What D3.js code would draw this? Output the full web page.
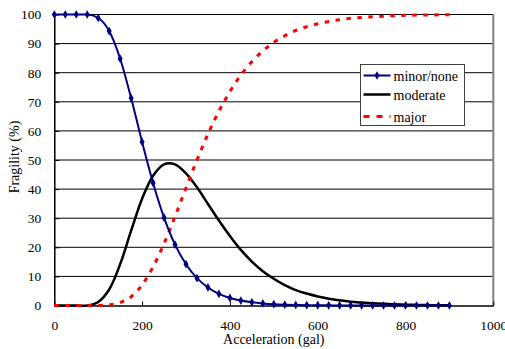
<!DOCTYPE html>
<html>
<head>
<meta charset="utf-8">
<script src="https://cdn.jsdelivr.net/npm/d3@7"></script>
<style>
  body { margin: 0; background: #fff; }
</style>
</head>
<body>
<div id="chart"></div>
<script>
// acceleration (gal), one point every 25 gal
const accel = d3.range(0, 901, 25);

const minorNone = [100, 100, 100, 100, 98.8, 94.3, 84.8, 71.3, 56.2, 42.1, 30.2, 20.9, 14.2, 9.4,
  6.2, 4.0, 2.6, 1.7, 1.1, 0.7, 0.44, 0.28, 0.18, 0.12, 0.08, 0.05, 0.03, 0.02, 0.01, 0.01,
  0, 0, 0, 0, 0, 0, 0];
const moderate = [0, 0, 0, 0, 1.2, 5.5, 14.2, 25.7, 36.7, 44.6, 48.5, 48.5, 45.4, 40.6,
  34.9, 29.2, 23.9, 19.1, 15.1, 11.8, 9.2, 7.0, 5.3, 4.1, 3.1, 2.35, 1.8, 1.3, 1.0, 0.75,
  0.6, 0.4, 0.3, 0.2, 0.15, 0.1, 0.1];
const major = [0, 0, 0, 0, 0.02, 0.2, 1.0, 3.0, 7.1, 13.3, 21.3, 30.6, 40.4, 50,
  58.9, 66.8, 73.5, 79.2, 83.8, 87.5, 90.4, 92.7, 94.5, 95.8, 96.8, 97.6, 98.2, 98.7, 99.0, 99.2,
  99.4, 99.6, 99.7, 99.8, 99.8, 99.9, 99.9];

const xTicks = [0, 200, 400, 600, 800, 1000];
const yTicks = [0, 10, 20, 30, 40, 50, 60, 70, 80, 90, 100];
const seriesNames = ['minor/none', 'moderate', 'major'];

const FONT = '"Liberation Serif", "Times New Roman", serif';
const W = 505, H = 349;
const svg = d3.select('#chart').append('svg')
    .attr('width', W)
    .attr('height', H);

const x = d3.scaleLinear().domain([0, 1000]).range([54.3, 493.3]);
const y = d3.scaleLinear().domain([0, 100]).range([305.5, 14.5]);

// horizontal gridlines
svg.append('g').selectAll('line').data(yTicks.slice(1)).enter().append('line')
    .attr('x1', x(0)).attr('x2', x(1000))
    .attr('y1', d => y(d)).attr('y2', d => y(d))
    .attr('stroke', '#000').attr('stroke-width', 1);

// right border of plot area
svg.append('line')
    .attr('x1', x(1000)).attr('x2', x(1000))
    .attr('y1', y(100)).attr('y2', y(0))
    .attr('stroke', '#808080').attr('stroke-width', 2);

// axes
const xAxis = svg.append('g')
    .attr('transform', `translate(0,${y(0)})`)
    .call(d3.axisBottom(x).tickValues(xTicks).tickFormat(d3.format('d'))
        .tickSizeInner(-4).tickSizeOuter(0).tickPadding(15));
const yAxis = svg.append('g')
    .attr('transform', `translate(${x(0)},0)`)
    .call(d3.axisLeft(y).tickValues(yTicks).tickFormat(d3.format('d'))
        .tickSizeInner(-5).tickSizeOuter(0).tickPadding(13));

[xAxis, yAxis].forEach(a => {
    a.attr('font-family', null).attr('font-size', null);
    a.select('.domain').attr('stroke', '#000').attr('stroke-width', 1.5);
    a.selectAll('.tick line').attr('stroke', '#000');
    a.selectAll('text')
        .style('font-family', FONT).style('font-size', '13.5px').attr('fill', '#000');
});

// axis titles
svg.append('text')
    .attr('x', (x(0) + x(1000)) / 2).attr('y', 344)
    .attr('text-anchor', 'middle')
    .style('font-family', FONT).style('font-size', '14px')
    .text('Acceleration (gal)');
svg.append('text')
    .attr('transform', `translate(19,${y(50) - 3}) rotate(-90)`)
    .attr('text-anchor', 'middle')
    .style('font-family', FONT).style('font-size', '14px')
    .text('Fragility (%)');

// curves
const line = (vals, curve) => d3.line()
    .x((d, i) => x(accel[i]))
    .y(d => y(d))
    .curve(curve)(vals);

svg.append('path').attr('d', line(moderate, d3.curveCatmullRom.alpha(0.5)))
    .attr('fill', 'none').attr('stroke', '#000').attr('stroke-width', 2.5);

svg.append('path').attr('d', line(major, d3.curveMonotoneX))
    .attr('fill', 'none').attr('stroke', '#ff0000').attr('stroke-width', 3)
    .attr('stroke-dasharray', '4.5,6.5');

svg.append('path').attr('d', line(minorNone, d3.curveMonotoneX))
    .attr('fill', 'none').attr('stroke', '#000080').attr('stroke-width', 2);

const diamond = d3.symbol().type(d3.symbolDiamond).size(22);
svg.append('g').selectAll('path').data(minorNone).enter().append('path')
    .attr('d', diamond)
    .attr('transform', (d, i) => `translate(${x(accel[i])},${y(d)})`)
    .attr('fill', '#000080');

// legend
const legend = svg.append('g').attr('transform', 'translate(360.5,64.5)');
legend.append('rect')
    .attr('width', 104).attr('height', 61)
    .attr('fill', '#fff').attr('stroke', '#404040').attr('stroke-width', 1);

const styles = [
    { stroke: '#000080', width: 2, dash: null, marker: true },
    { stroke: '#000', width: 2.5, dash: null, marker: false },
    { stroke: '#ff0000', width: 3, dash: '6,7', marker: false }
];
const rowY = [11, 30, 52];
seriesNames.forEach((name, i) => {
    const g = legend.append('g').attr('transform', `translate(0,${rowY[i]})`);
    g.append('line')
        .attr('x1', 3).attr('x2', 30).attr('y1', 0).attr('y2', 0)
        .attr('stroke', styles[i].stroke).attr('stroke-width', styles[i].width)
        .attr('stroke-dasharray', styles[i].dash);
    if (styles[i].marker) {
        g.append('path').attr('d', diamond).attr('transform', 'translate(16.5,0)').attr('fill', '#000080');
    }
    g.append('text')
        .attr('x', 33).attr('y', 5)
        .style('font-family', FONT).style('font-size', '14px')
        .text(name);
});
</script>
</body>
</html>
